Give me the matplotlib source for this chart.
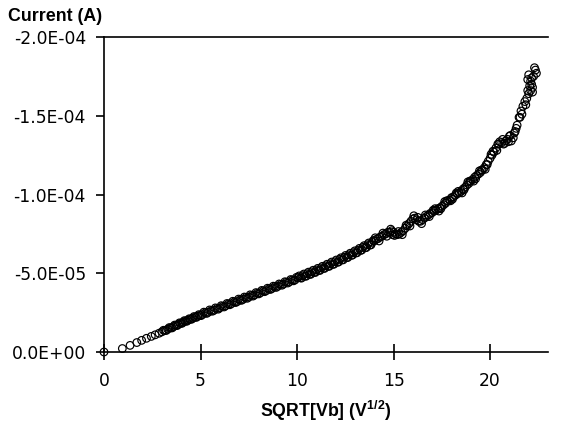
import matplotlib
matplotlib.use('Agg')
import matplotlib.pyplot as plt
from matplotlib.ticker import FuncFormatter

plt.rcParams['font.family'] = ['Liberation Sans', 'DejaVu Sans']
plt.rcParams['mathtext.fontset'] = 'custom'
plt.rcParams['mathtext.rm'] = 'Liberation Sans'
plt.rcParams['mathtext.bf'] = 'Liberation Sans:bold'

# SQRT[Vb] (V^1/2)
sqrt_vb = [
    0.0, 0.95, 1.35, 1.7, 1.95, 2.2, 2.45, 2.65, 2.85, 3.0, 3.15, 3.3, 3.45, 3.6, 3.72,
    3.85, 3.97, 4.1, 4.22, 4.35, 4.47, 4.6, 4.72, 4.85, 4.97,
    5.1, 5.25, 5.4, 5.55, 5.7, 5.85, 6.0, 6.15, 6.3, 6.45, 6.6, 6.75, 6.9, 7.05, 7.2,
    7.35, 7.5, 7.65, 7.8, 7.95, 8.1, 8.25, 8.4, 8.55, 8.7, 8.85, 9.0, 9.15, 9.3, 9.45,
    9.6, 9.75, 9.9,
    10.05, 10.17, 10.29, 10.41, 10.53, 10.65, 10.77, 10.89, 11.01, 11.13, 11.25, 11.37,
    11.49, 11.61, 11.73, 11.85, 11.97, 12.09, 12.21, 12.33, 12.45, 12.57, 12.69, 12.81,
    12.93, 13.05, 13.17, 13.29, 13.41, 13.53, 13.65, 13.77, 13.89,
    14.0, 14.1, 14.2, 14.3, 14.4, 14.5, 14.6, 14.7, 14.8, 14.9, 15.0, 15.1, 15.2, 15.3,
    15.4, 15.5, 15.6, 15.7, 15.8, 15.9, 16.0, 16.1, 16.2, 16.3, 16.4, 16.5, 16.6, 16.7,
    16.8, 16.9, 17.0,
    17.1, 17.2, 17.3, 17.4, 17.5, 17.6, 17.7, 17.8, 17.9, 18.0, 18.1, 18.2, 18.3, 18.4,
    18.5, 18.6, 18.7, 18.8, 18.9, 19.0, 19.1, 19.2, 19.3, 19.4, 19.5, 19.6, 19.7, 19.8,
    19.9, 20.0,
    20.1, 20.2, 20.3, 20.4, 20.5, 20.6, 20.7, 20.8, 20.9, 21.0, 21.1, 21.2, 21.3, 21.4,
    21.5, 21.6, 21.7, 21.8, 21.9, 22.0, 22.05, 22.1, 22.15, 22.0, 21.95, 22.2, 22.25,
    22.3, 22.4, 22.2,
    # second pass
    3.08, 3.23, 3.38, 3.53, 3.66, 3.79, 3.91, 4.04, 4.16, 4.29, 4.41, 4.54, 4.66, 4.79,
    4.91, 5.03,
    5.17, 5.32, 5.47, 5.62, 5.77, 5.92, 6.07, 6.22, 6.37, 6.52, 6.67, 6.82, 6.97, 7.12,
    7.27, 7.42, 7.57, 7.72, 7.87, 8.02, 8.17, 8.32, 8.47, 8.62, 8.77, 8.92, 9.07, 9.22,
    9.37, 9.52, 9.67, 9.82, 9.97,
    10.11, 10.23, 10.35, 10.47, 10.59, 10.71, 10.83, 10.95, 11.07, 11.19, 11.31, 11.43,
    11.55, 11.67, 11.79, 11.91, 12.03, 12.15, 12.27, 12.39, 12.51, 12.63, 12.75, 12.87,
    12.99, 13.11, 13.23, 13.35, 13.47, 13.59, 13.71, 13.83, 13.95,
    14.05, 14.25, 14.45, 14.65, 14.85, 14.95, 15.05, 15.25, 15.45, 15.65, 15.85, 16.05,
    16.25, 16.45, 16.65, 16.85, 17.05, 17.35, 17.65, 17.95, 18.25, 18.55, 18.85, 19.15,
    19.45, 19.75, 20.05, 20.35, 20.65, 20.95, 21.25, 21.55, 21.85, 22.1,
    # third pass
    17.15, 17.45, 17.75, 18.05, 18.35, 18.65, 18.95, 19.25, 19.55, 19.85, 20.15, 20.45,
    20.75, 21.05, 21.35, 21.65, 21.95, 22.15, 22.35,
]

# Current magnitude in units of 1E-05 A (plotted as negative current)
current_e5 = [
    0.0, 0.22, 0.42, 0.6, 0.74, 0.87, 0.99, 1.09, 1.19, 1.28, 1.36, 1.45, 1.53, 1.61, 1.68,
    1.75, 1.82, 1.89, 1.96, 2.02, 2.08, 2.15, 2.21, 2.27, 2.33,
    2.38, 2.49, 2.52, 2.62, 2.65, 2.76, 2.80, 2.90, 2.93, 3.05, 3.07, 3.18, 3.20, 3.31, 3.34,
    3.46, 3.48, 3.59, 3.62, 3.73, 3.76, 3.88, 3.89, 4.01, 4.03, 4.15, 4.17, 4.29, 4.31, 4.43,
    4.45, 4.57, 4.58,
    4.72, 4.71, 4.85, 4.82, 4.97, 4.94, 5.09, 5.06, 5.21, 5.18, 5.34, 5.31,
    5.47, 5.44, 5.60, 5.57, 5.73, 5.70, 5.88, 5.85, 6.02, 5.99, 6.17, 6.14,
    6.31, 6.29, 6.47, 6.45, 6.64, 6.62, 6.81, 6.79, 6.97,
    7.05, 7.15, 7.2, 7.3, 7.35, 7.45, 7.5, 7.6, 7.6, 7.7, 7.6, 7.5, 7.45, 7.5,
    7.6, 7.7, 7.85, 8.0, 8.15, 8.3, 8.45, 8.5, 8.4, 8.3, 8.3, 8.4, 8.5, 8.6,
    8.7, 8.8, 8.85,
    8.95, 9.0, 9.1, 9.15, 9.25, 9.35, 9.45, 9.6, 9.65, 9.8, 9.85, 9.95, 10.05, 10.1,
    10.2, 10.35, 10.45, 10.6, 10.7, 10.85, 10.95, 11.1, 11.2, 11.3, 11.4, 11.55, 11.7, 11.9,
    12.1, 12.3,
    12.5, 12.7, 12.95, 13.2, 13.35, 13.3, 13.2, 13.4, 13.5, 13.7, 13.4, 13.6, 14.0, 14.4,
    14.9, 15.3, 15.6, 15.9, 16.1, 16.4, 16.9, 17.2, 17.0, 17.6, 17.3, 16.8, 17.5,
    18.05, 17.7, 16.5,
    # second pass
    1.38, 1.37, 1.55, 1.53, 1.71, 1.68, 1.85, 1.82, 1.99, 1.95, 2.11, 2.08, 2.25, 2.20,
    2.37, 2.31,
    2.53, 2.45, 2.67, 2.59, 2.80, 2.72, 2.94, 2.86, 3.08, 3.00, 3.22, 3.14, 3.36, 3.28,
    3.49, 3.41, 3.63, 3.55, 3.77, 3.69, 3.91, 3.83, 4.05, 3.97, 4.18, 4.10, 4.32, 4.24,
    4.46, 4.38, 4.60, 4.52, 4.74,
    4.83, 4.69, 4.95, 4.81, 5.07, 4.93, 5.19, 5.05, 5.31, 5.18, 5.44, 5.31,
    5.57, 5.44, 5.71, 5.57, 5.84, 5.71, 5.98, 5.85, 6.13, 6.00, 6.27, 6.15,
    6.42, 6.30, 6.58, 6.47, 6.75, 6.63, 6.92, 6.80, 7.08,
    7.25, 7.05, 7.55, 7.35, 7.8, 7.45, 7.4, 7.65, 7.45, 8.05, 8.0, 8.65,
    8.55, 8.15, 8.7, 8.6, 9.0, 8.95, 9.55, 9.6, 10.1, 10.1, 10.8, 10.85,
    11.5, 11.6, 12.55, 12.8, 13.5, 13.35, 13.9, 14.9, 15.7, 16.6,
    # third pass
    9.1, 9.1, 9.6, 9.7, 10.2, 10.3, 10.85, 11.0, 11.55, 11.9, 12.75, 13.2,
    13.25, 13.75, 14.2, 15.1, 16.6, 17.4, 17.9,
]

current = [-v * 1e-5 for v in current_e5]

xticks = [0, 5, 10, 15, 20]
yticks = [0.0, -5e-5, -1e-4, -1.5e-4, -2e-4]

fig = plt.figure(figsize=(5.64, 4.22), dpi=100)
ax = fig.add_axes([104/564, 1-352/422, 444/564, 315/422])

ax.scatter(sqrt_vb, current, s=30, facecolors='none', edgecolors='black',
           linewidths=0.85, clip_on=False, zorder=3)

ax.set_xlim(0, 23)
ax.set_ylim(0, -2e-4)
ax.set_xticks(xticks)
ax.set_yticks(yticks)
ax.yaxis.set_major_formatter(FuncFormatter(lambda v, p: f"{v:.1E}" if abs(v) > 1e-12 else "0.0E+00"))

ax.spines['right'].set_visible(False)
for s in ['top', 'left', 'bottom']:
    ax.spines[s].set_linewidth(1.2)

ax.tick_params(axis='x', direction='inout', length=11, width=1.2, pad=9)
ax.tick_params(axis='y', direction='out', length=6, width=1.2, pad=7)
for lab in ax.get_xticklabels() + ax.get_yticklabels():
    lab.set_family(['DejaVu Sans'])
    lab.set_fontsize(12.3)

ax.set_xlabel(r'SQRT[Vb] (V$^{\mathbf{1/2}}$)', fontsize=12.8, fontweight='bold', labelpad=6)
fig.text(8/564, 1-21/422, 'Current (A)', fontsize=12.8, fontweight='bold', ha='left', va='baseline')

fig.savefig('out.png', dpi=100)
